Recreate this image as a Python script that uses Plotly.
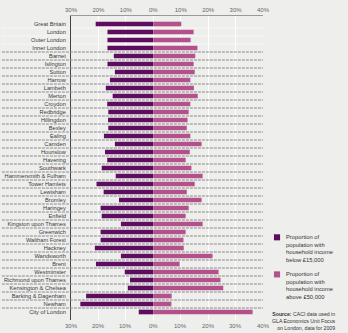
import plotly.graph_objects as go

# Boroughs and reference areas, top to bottom
areas = [
    "Great Britain", "London", "Outer London", "Inner London",
    "Barnet", "Islington", "Sutton", "Harrow", "Lambeth", "Merton",
    "Croydon", "Redbridge", "Hillingdon", "Bexley", "Ealing", "Camden",
    "Hounslow", "Havering", "Southwark", "Hammersmith & Fulham",
    "Tower Hamlets", "Lewisham", "Bromley", "Haringey", "Enfield",
    "Kingston upon Thames", "Greenwich", "Waltham Forest", "Hackney",
    "Wandsworth", "Brent", "Westminster", "Richmond upon Thames",
    "Kensington & Chelsea", "Barking & Dagenham", "Newham", "City of London",
]

# % of population with household income below £15,000
below_15k = [
    21.0, 16.7, 16.7, 16.7,
    14.4, 16.7, 14.0, 15.8, 17.3, 14.8,
    16.8, 16.4, 16.5, 16.4, 18.0, 14.0,
    17.6, 16.8, 18.8, 13.7,
    20.7, 18.1, 12.5, 19.2, 18.8,
    11.8, 19.2, 19.2, 21.3,
    11.8, 20.9, 10.4, 8.5,
    9.3, 24.5, 26.6, 5.3,
]

# % of population with household income above £50,000
above_50k = [
    10.2, 14.7, 13.6, 16.1,
    15.3, 14.7, 15.1, 13.5, 14.8, 16.2,
    13.5, 12.9, 12.5, 12.2, 13.5, 17.6,
    13.3, 11.8, 13.9, 18.0,
    15.1, 12.2, 17.6, 12.9, 11.8,
    18.0, 11.8, 11.0, 11.1,
    21.6, 9.6, 23.8, 24.5,
    25.5, 6.7, 6.6, 36.2,
]

tick_vals = [-30, -20, -10, 0, 10, 20, 30, 40]
tick_text = ["30%", "20%", "10%", "0%", "10%", "20%", "30%", "40%"]

PURPLE = "#5e0c60"
PINK = "#b4508a"
BG = "#eeefed"
FONT = "Liberation Sans, Arial, sans-serif"

fig = go.Figure()
fig.add_trace(go.Bar(
    y=areas, x=[-v for v in below_15k], orientation="h",
    marker=dict(color=PURPLE, line=dict(width=0)),
    name="Proportion of population with household income below £15,000",
    showlegend=False,
))
fig.add_trace(go.Bar(
    y=areas, x=above_50k, orientation="h",
    marker=dict(color=PINK, line=dict(width=0)),
    name="Proportion of population with household income above £50,000",
    showlegend=False,
))

# Row separators: faint dotted between the summary rows, dashed between boroughs
shapes = []
for i in range(len(areas) - 1):
    summary = i < 3
    shapes.append(dict(
        type="line", xref="paper", yref="y",
        x0=-0.36, x1=1.0, y0=i + 0.5, y1=i + 0.5,
        line=dict(color="#ffffff" if summary else "#8a8a8a",
                  width=1, dash="1px,1px" if summary else "3px,1px"),
        layer="below" if summary else "above",
    ))

# Legend swatches
shapes.append(dict(type="rect", xref="paper", yref="paper",
                   x0=1.057, x1=1.089, y0=0.262, y1=0.282,
                   fillcolor=PURPLE, line=dict(width=0)))
shapes.append(dict(type="rect", xref="paper", yref="paper",
                   x0=1.057, x1=1.089, y0=0.140, y1=0.160,
                   fillcolor=PINK, line=dict(width=0)))

annotations = [
    dict(xref="paper", yref="paper", x=1.11, y=0.289, xanchor="left", yanchor="top",
         align="left", showarrow=False,
         text="Proportion of<br>population with<br>household income<br>below £15,000",
         font=dict(family=FONT, size=5.8, color="#333333")),
    dict(xref="paper", yref="paper", x=1.11, y=0.167, xanchor="left", yanchor="top",
         align="left", showarrow=False,
         text="Proportion of<br>population with<br>household income<br>above £50,000",
         font=dict(family=FONT, size=5.8, color="#333333")),
    dict(xref="paper", yref="paper", x=1.39, y=0.036, xanchor="right", yanchor="top",
         align="right", showarrow=False,
         text="<b>Source:</b> CACI data used in<br>GLA Economics Unit Focus<br>on London, data for 2009",
         font=dict(family=FONT, size=5.2, color="#333333")),
]

# Bottom copy of the percentage scale
for v, t in zip(tick_vals, tick_text):
    annotations.append(dict(
        xref="x", yref="paper", x=v, y=-0.003, xanchor="center", yanchor="top",
        showarrow=False, text=t,
        font=dict(family=FONT, size=6, color="#666666"),
    ))

fig.update_layout(
    width=348, height=333,
    margin=dict(l=71, r=85, t=16, b=13, autoexpand=False),
    paper_bgcolor=BG, plot_bgcolor=BG,
    barmode="relative", bargap=0.42,
    font=dict(family=FONT, size=6, color="#333333"),
    xaxis=dict(side="top", range=[-30, 40], autorange=False, automargin=False,
               tickvals=tick_vals, ticktext=tick_text,
               tickfont=dict(family=FONT, size=6, color="#666666"),
               showgrid=True, gridcolor="#ffffff", gridwidth=1,
               zeroline=False,
               showline=True, linecolor="#9a9a9a", linewidth=1,
               ticks="", ticklabelstandoff=1, fixedrange=True),
    yaxis=dict(type="category", range=[37, -1], autorange=False, automargin=False,
               tickmode="array", tickvals=areas, ticktext=areas,
               showgrid=False,
               showline=True, linecolor="#444444", linewidth=1,
               ticks="", ticklabelstandoff=3,
               tickfont=dict(family=FONT, size=5.7, color="#3a3a3a"),
               fixedrange=True),
    shapes=shapes,
    annotations=annotations,
)

fig.write_html("out.html")
